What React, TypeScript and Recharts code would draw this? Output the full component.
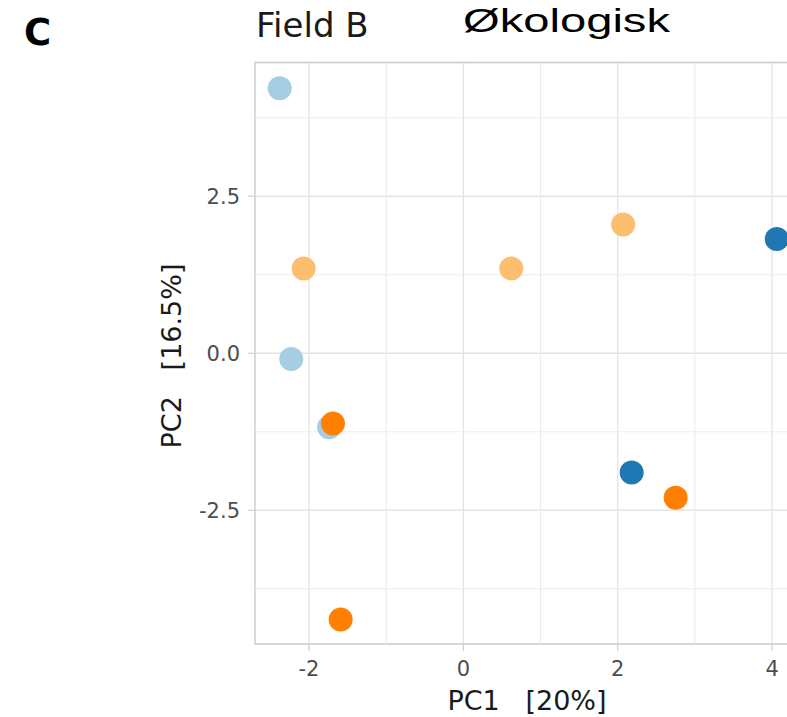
import React from 'react'
import { ScatterChart, Scatter, XAxis, YAxis, CartesianGrid, ReferenceLine, ReferenceArea } from 'recharts'

// PCA scores, one array per group
const lightBlue = [
  { x: -2.38, y: 4.22 },
  { x: -2.23, y: -0.09 },
  { x: -1.74, y: -1.18 },
]
const darkBlue = [
  { x: 4.06, y: 1.82 },
  { x: 2.18, y: -1.9 },
]
const lightOrange = [
  { x: -2.07, y: 1.35 },
  { x: 0.62, y: 1.35 },
  { x: 2.07, y: 2.05 },
]
const orange = [
  { x: -1.69, y: -1.12 },
  { x: 2.75, y: -2.3 },
  { x: -1.59, y: -4.24 },
]

const xTicks = [-2, 0, 2, 4]
const yTicks = [-2.5, 0, 2.5]
const xMinor = [-1, 1, 3]
const yMinor = [-3.75, -1.25, 1.25, 3.75]
const xDomain: [number, number] = [-2.7, 4.4]
const yDomain: [number, number] = [-4.63, 4.63]

const dot = (color: string) => (p: any) => <circle cx={p.cx} cy={p.cy} r={12} fill={color} />

const tickStyle = { fill: '#4d4d4d', fontSize: 21, fontFamily: 'DejaVu Sans' }

export default function App() {
  return (
    <div style={{ position: 'absolute', left: 0, top: 0, width: 787, height: 717, overflow: 'hidden', background: '#fff' }}>
      <ScatterChart width={813} height={717} margin={{ top: 62.5, right: 10, bottom: 0, left: 0 }}>
        <CartesianGrid stroke="#e4e4e4" strokeWidth={1.3} />
        {xMinor.map(v => (
          <ReferenceLine key={'x' + v} x={v} stroke="#ececec" strokeWidth={1.1} />
        ))}
        {yMinor.map(v => (
          <ReferenceLine key={'y' + v} y={v} stroke="#ececec" strokeWidth={1.1} />
        ))}
        <XAxis
          type="number"
          dataKey="x"
          domain={xDomain}
          ticks={xTicks}
          allowDataOverflow
          height={73}
          axisLine={false}
          tickSize={7}
          tickMargin={10}
          tickLine={{ stroke: '#c8c8c8' }}
          tick={tickStyle}
        />
        <YAxis
          type="number"
          dataKey="y"
          domain={yDomain}
          ticks={yTicks}
          allowDataOverflow
          width={255}
          axisLine={false}
          tickSize={7}
          tickMargin={8}
          tickLine={{ stroke: '#c8c8c8' }}
          tick={tickStyle}
          tickFormatter={(v: number) => v.toFixed(1)}
        />
        <Scatter data={lightBlue} fill="#a6cee3" shape={dot('#a6cee3')} isAnimationActive={false} />
        <Scatter data={darkBlue} fill="#1f78b4" shape={dot('#1f78b4')} isAnimationActive={false} />
        <Scatter data={lightOrange} fill="#fdbf6f" shape={dot('#fdbf6f')} isAnimationActive={false} />
        <Scatter data={orange} fill="#ff7f00" shape={dot('#ff7f00')} isAnimationActive={false} />
        <ReferenceArea
          x1={xDomain[0]}
          x2={xDomain[1]}
          y1={yDomain[0]}
          y2={yDomain[1]}
          fill="none"
          fillOpacity={0}
          stroke="#cfcfcf"
          strokeWidth={1.3}
        />
      </ScatterChart>
      {/* titles and axis labels */}
      <svg width={787} height={717} style={{ position: 'absolute', left: 0, top: 0, pointerEvents: 'none' }}>
        <text x={24} y={45} fontFamily="DejaVu Sans" fontWeight="bold" fontSize={37} fill="#000">C</text>
        <text x={256} y={37} fontFamily="DejaVu Sans" fontSize={34} fill="#1a1a1a">Field B</text>
        <text x={463} y={32} fontFamily="Liberation Sans" fontSize={34} fill="#000" textLength={207} lengthAdjust="spacingAndGlyphs">Økologisk</text>
        <text x={527} y={710} fontFamily="DejaVu Sans" fontSize={27} fill="#1a1a1a" textAnchor="middle" style={{ whiteSpace: 'pre' }}>{'PC1   [20%]'}</text>
        <text
          x={181}
          y={356}
          transform="rotate(-90 181 356)"
          fontFamily="DejaVu Sans"
          fontSize={27}
          fill="#1a1a1a"
          textAnchor="middle"
          style={{ whiteSpace: 'pre' }}
        >
          {'PC2   [16.5%]'}
        </text>
      </svg>
    </div>
  )
}
